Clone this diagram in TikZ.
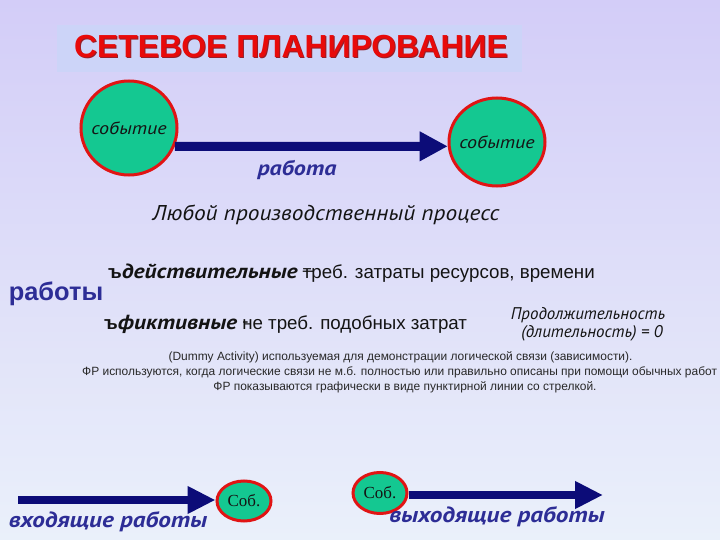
\documentclass[tikz,border=0pt]{standalone}
\usepackage{fontspec}
\setmainfont{Liberation Sans}
\newfontfamily\ptsans{PT Sans}
\newfontfamily\ptwide{PT Sans}[FakeStretch=1.15]
\newfontfamily\ptmid{PT Sans}[FakeStretch=1.09]
\newfontfamily\tnr{Liberation Serif}
\usetikzlibrary{shapes.geometric,arrows.meta}
\definecolor{bgtop}{RGB}{211,205,248}
\definecolor{bgbot}{RGB}{234,240,250}
\definecolor{titlebox}{RGB}{204,212,248}
\definecolor{evfill}{RGB}{20,200,145}
\definecolor{evline}{RGB}{225,20,20}
\definecolor{navy}{RGB}{12,12,120}
\definecolor{lblue}{RGB}{45,45,150}
\definecolor{tred}{RGB}{232,10,10}
\definecolor{tshadow}{RGB}{150,30,40}
\definecolor{txt}{RGB}{20,20,20}
\definecolor{smalltxt}{RGB}{40,40,40}
\begin{document}
\begin{tikzpicture}[x=1bp,y=-1bp,
  event/.style={ellipse, draw=evline, fill=evfill, line width=3bp, inner sep=0pt},
  bigarrow/.style={draw=navy, line width=9bp, -{Triangle[length=28bp,width=28bp]}},
  smallarrow/.style={draw=navy, line width=8bp, -{Triangle[length=28bp,width=26bp]}},
  evtext/.style={font=\fontsize{17.5}{19}\selectfont\ptwide\itshape, text=txt},
  bluebi/.style={font=\fontsize{22}{24}\selectfont\ptwide\bfseries\itshape, text=lblue},
  smallline/.style={font=\fontsize{12}{13}\selectfont, text=smalltxt, inner sep=0pt},
  bodytext/.style={font=\fontsize{18.8}{21}\selectfont, text=txt, inner sep=0pt},
  durtext/.style={font=\fontsize{17}{19}\selectfont\ptsans\itshape, text=txt}
]
\shade[top color=bgtop,bottom color=bgbot] (0,0) rectangle (720,540);
\useasboundingbox (0,0) rectangle (720,540);

% title
\node[fill=titlebox, minimum width=465bp, minimum height=47bp, inner sep=0pt] (tbox) at (289.5,48.5) {};
\node[font=\fontsize{32}{34}\selectfont\bfseries, text=tshadow] (tshad) at (292,48) {СЕТЕВОЕ ПЛАНИРОВАНИЕ};
\node[font=\fontsize{32}{34}\selectfont\bfseries, text=tred] (title) at (291,47) {СЕТЕВОЕ ПЛАНИРОВАНИЕ};

% events and work
\node[event, minimum width=96bp, minimum height=94bp, evtext] (e1) at (129,128) {\makebox[0pt]{событие}};
\node[event, minimum width=96bp, minimum height=88bp, evtext] (e2) at (497,142) {\makebox[0pt]{событие}};
\draw[bigarrow] (e1.-22) -- (e2.185);
\node[bluebi, font=\fontsize{21}{23}\selectfont\ptwide\bfseries\itshape] (work) at (297,170) {работа};

\node[font=\fontsize{21.5}{23}\selectfont\ptmid\itshape, text=txt] (proc) at (326,215) {Любой производственный процесс};

% kinds of works
\node[font=\fontsize{25.5}{27}\selectfont\bfseries, text=lblue] (works) at (56,294) {работы};
\node[bodytext, anchor=west] (real) at (108,273) {\textbf{ъ}{\ptwide\fontsize{20.5}{21}\selectfont\bfseries\itshape действительные} \rlap{\raisebox{2bp}{–}}треб. затраты ресурсов, времени};
\node[bodytext, anchor=west] (fict) at (104,324) {\textbf{ъ}{\ptwide\fontsize{20.5}{21}\selectfont\bfseries\itshape фиктивные} \rlap{\raisebox{2bp}{-}}не треб. подобных затрат};
\node[durtext] (dur1) at (588,315) {Продолжительность};
\node[durtext] (dur2) at (592,333) {(длительность) = 0};

% small notes
\node[smallline] (n1) at (400.5,357) {(Dummy Activity) используемая для демонстрации логической связи (зависимости).};
\node[smallline, anchor=west] (n2) at (82,372) {ФР используются, когда логические связи не м.б. полностью или правильно описаны при помощи обычных работ};
\node[smallline] (n3) at (405,387) {ФР показываются графически в виде пунктирной линии со стрелкой.};

% bottom
\node[event, minimum width=54bp, minimum height=40bp, font=\fontsize{17}{19}\selectfont\tnr, text=txt] (s1) at (244,501) {\makebox[0pt]{Соб.}};
\node[event, minimum width=54bp, minimum height=41bp, font=\fontsize{17}{19}\selectfont\tnr, text=txt] (s2) at (380,493) {\makebox[0pt]{Соб.}};
\coordinate (a1) at (18,500);
\coordinate (a2) at (603,495);
\draw[smallarrow] (a1) -- (a1 -| s1.west);
\draw[smallarrow] (s2.east |- a2) -- (a2);
\node[bluebi] (inw) at (108,522) {входящие работы};
\node[bluebi] (outw) at (497,517) {выходящие работы};
\end{tikzpicture}
\end{document}
